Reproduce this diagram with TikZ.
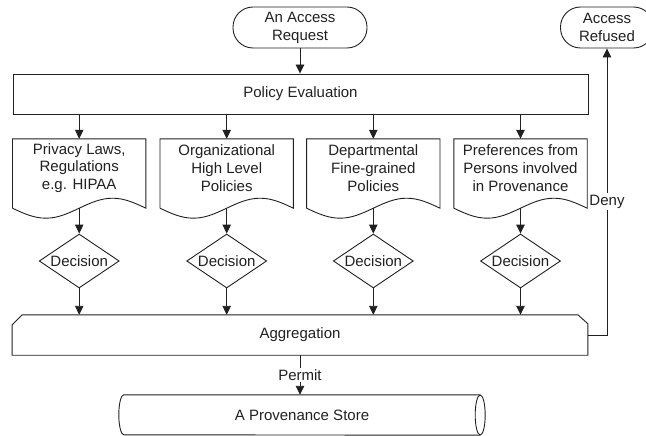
\documentclass[tikz,border=0pt]{standalone}
\usepackage{fontspec}
\setmainfont{Liberation Sans}
\usetikzlibrary{arrows.meta,shapes.geometric,calc}
\definecolor{ink}{HTML}{202020}
\begin{document}
\begin{tikzpicture}[x=1pt,y=-1pt,
  every node/.style={font=\fontsize{15}{17.8}\selectfont, inner sep=0pt, text=ink},
  outline/.style={draw=ink, line width=0.9pt},
  conn/.style={draw=ink, line width=0.9pt, -{Triangle[length=9pt,width=8.5pt]}},
  term/.style={outline, rounded corners=20pt, align=center, minimum height=41pt},
  box/.style={outline, minimum width=575pt, minimum height=40pt},
  docarea/.style={minimum width=133pt, minimum height=69pt},
  doctext/.style={align=center},
  dec/.style={outline, diamond, shape aspect=1.48, minimum width=80pt, minimum height=54pt},
  lbl/.style={fill=white, inner sep=1.5pt}
]
\useasboundingbox (0,0) rectangle (646,436);

\node[term, minimum width=134pt] (req) at (300,27.5) {An Access\\Request};
\node[term, minimum width=93pt] (ref) at (607,27.5) {Access\\Refused};
\node[box] (pe) at (300.5,94) {Policy Evaluation};
\draw[conn] (req.south) -- (req.south |- pe.north);

\node[minimum width=575.4pt, minimum height=40pt] (agg) at (300,335) {Aggregation};
\draw[outline] (agg.south west) -- ([yshift=-10pt]agg.north west) -- ([xshift=10pt]agg.north west)
  -- ([xshift=-10pt]agg.north east) -- ([yshift=-9pt]agg.north east) -- (agg.south east) -- cycle;

\foreach \x/\n/\t in {79.2/1/{Privacy Laws,\\Regulations\\e.g. HIPAA},
                      226.7/2/{Organizational\\High Level\\Policies},
                      373.3/3/{Departmental\\Fine-grained\\Policies},
                      520.5/4/{Preferences from\\Persons involved\\in Provenance}} {
  \node[docarea] (d\n) at (\x,173.5) {};
  \node[doctext] (t\n) at ([yshift=5.5pt]d\n.center) {\t};
  \draw[outline] (d\n.south west) -- (d\n.north west) -- (d\n.north east) -- (d\n.south east)
    sin ($(d\n.south east)!0.25!(d\n.south west)+(0,-10)$)
    cos (d\n.south)
    sin ($(d\n.south west)!0.25!(d\n.south east)+(0,10)$)
    cos (d\n.south west);
  \node[dec] (k\n) at (\x,261) {Decision};
  \draw[conn] (pe.south -| d\n.north) -- (d\n.north);
  \draw[conn] (d\n.south) -- (k\n.north);
  \draw[conn] (k\n.south) -- (agg.north -| k\n.south);
}

\draw[conn] (agg.east) -| node[lbl, pos=0.733] {Deny} (ref.south);

\node[minimum width=356pt, minimum height=40pt] (store) at (302,415) {A Provenance Store};
\draw[outline] (store.north east) -- (store.north west)
  arc[start angle=90, end angle=270, x radius=5pt, y radius=20pt] -- (store.south east);
\draw[outline] (store.east) ellipse [x radius=5pt, y radius=20pt];
\draw[conn] (agg.south) -- node[lbl] {Permit} (agg.south |- store.north);
\end{tikzpicture}
\end{document}
